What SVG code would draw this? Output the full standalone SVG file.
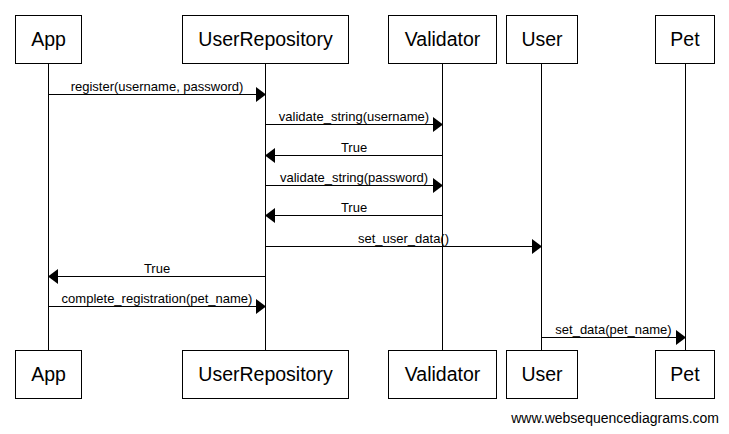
<svg xmlns="http://www.w3.org/2000/svg" width="729" height="434" viewBox="0 0 729 434">
<style>
.box{fill:#fff;stroke:#000;stroke-width:1}
.life{stroke:#000;stroke-width:1}
.msg{stroke:#000;stroke-width:1;fill:none}
.head{fill:#000}
.t{font-family:"Liberation Sans",Arial,sans-serif;font-size:19.5px;fill:#000;text-anchor:middle}
.m{font-family:"Liberation Sans",Arial,sans-serif;font-size:13px;fill:#000;text-anchor:middle}
.f{font-family:"Liberation Sans",Arial,sans-serif;font-size:14px;fill:#000;text-anchor:end}
</style>
<rect width="729" height="434" fill="#fff"/>
<g id="lifelines">
<line class="life" x1="48.5" y1="64" x2="48.5" y2="350"/>
<line class="life" x1="265.5" y1="64" x2="265.5" y2="350"/>
<line class="life" x1="442.5" y1="64" x2="442.5" y2="350"/>
<line class="life" x1="541.5" y1="64" x2="541.5" y2="350"/>
<line class="life" x1="685.5" y1="64" x2="685.5" y2="350"/>
</g>
<g id="App">
<rect class="box" x="15.5" y="15.5" width="66" height="48"/>
<text class="t" x="48.5" y="46">App</text>
<rect class="box" x="15.5" y="350.5" width="66" height="48"/>
<text class="t" x="48.5" y="381">App</text>
</g>
<g id="UserRepository">
<rect class="box" x="182.5" y="15.5" width="166" height="48"/>
<text class="t" x="265.5" y="46">UserRepository</text>
<rect class="box" x="182.5" y="350.5" width="166" height="48"/>
<text class="t" x="265.5" y="381">UserRepository</text>
</g>
<g id="Validator">
<rect class="box" x="388.5" y="15.5" width="108" height="48"/>
<text class="t" x="442.5" y="46">Validator</text>
<rect class="box" x="388.5" y="350.5" width="108" height="48"/>
<text class="t" x="442.5" y="381">Validator</text>
</g>
<g id="User">
<rect class="box" x="506.5" y="15.5" width="71" height="48"/>
<text class="t" x="542" y="46">User</text>
<rect class="box" x="506.5" y="350.5" width="71" height="48"/>
<text class="t" x="542" y="381">User</text>
</g>
<g id="Pet">
<rect class="box" x="655.5" y="15.5" width="59" height="48"/>
<text class="t" x="685" y="46">Pet</text>
<rect class="box" x="655.5" y="350.5" width="59" height="48"/>
<text class="t" x="685" y="381">Pet</text>
</g>
<g id="connectors">
<line class="msg" x1="48.5" y1="94.5" x2="256" y2="94.5"/>
<polygon class="head" points="256,87 266,94.5 256,102"/>
<text class="m" x="157" y="91">register(username, password)</text>

<line class="msg" x1="265.5" y1="124.5" x2="433" y2="124.5"/>
<polygon class="head" points="433,117 443,124.5 433,132"/>
<text class="m" x="354" y="121">validate_string(username)</text>

<line class="msg" x1="275" y1="155.5" x2="442.5" y2="155.5"/>
<polygon class="head" points="275,148 265,155.5 275,163"/>
<text class="m" x="354" y="152">True</text>

<line class="msg" x1="265.5" y1="185.5" x2="433" y2="185.5"/>
<polygon class="head" points="433,178 443,185.5 433,193"/>
<text class="m" x="354" y="182">validate_string(password)</text>

<line class="msg" x1="275" y1="215.5" x2="442.5" y2="215.5"/>
<polygon class="head" points="275,208 265,215.5 275,223"/>
<text class="m" x="354" y="212">True</text>

<line class="msg" x1="265.5" y1="246.5" x2="532" y2="246.5"/>
<polygon class="head" points="532,239 542,246.5 532,254"/>
<text class="m" x="403.5" y="243">set_user_data()</text>

<line class="msg" x1="58" y1="276.5" x2="265.5" y2="276.5"/>
<polygon class="head" points="58,269 48,276.5 58,284"/>
<text class="m" x="157" y="273">True</text>

<line class="msg" x1="48.5" y1="306.5" x2="256" y2="306.5"/>
<polygon class="head" points="256,299 266,306.5 256,314"/>
<text class="m" x="157" y="303">complete_registration(pet_name)</text>

<line class="msg" x1="541.5" y1="337.5" x2="676" y2="337.5"/>
<polygon class="head" points="676,330 686,337.5 676,345"/>
<text class="m" x="613.5" y="334">set_data(pet_name)</text>
</g>
<text class="f" x="719" y="423">www.websequencediagrams.com</text>
</svg>
